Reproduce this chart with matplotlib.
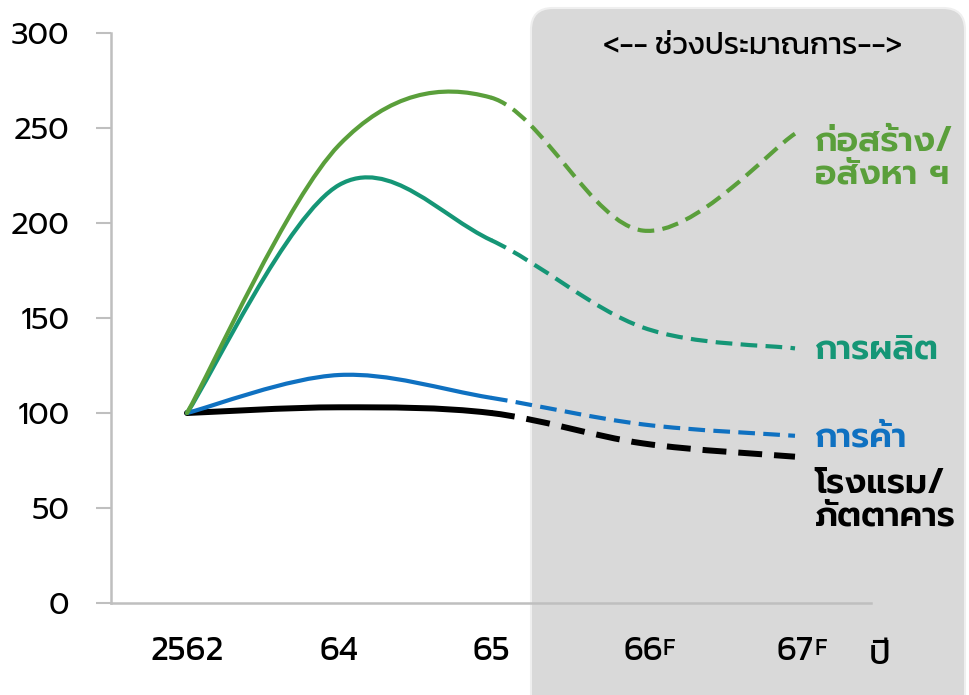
import matplotlib
matplotlib.use("Agg")
import matplotlib.pyplot as plt
from matplotlib.path import Path
from matplotlib.patches import PathPatch, FancyBboxPatch

# ข้อมูล (ดัชนี 2562 = 100)
years = ["2562", "64", "65", "66", "67"]
forecast = [False, False, False, True, True]  # ปีที่มี F
construction = [100, 241, 266, 196, 247]   # ก่อสร้าง/อสังหา ฯ
manufacturing = [100, 220, 191, 145, 134]  # การผลิต
trade = [100, 120, 108, 94, 88]            # การค้า
hotel = [100, 103, 100, 84, 77]            # โรงแรม/ภัตตาคาร
n_actual = 3  # 2562-65 เป็นค่าจริง ที่เหลือเป็นค่าประมาณการ

plt.rcParams["font.family"] = ["Prompt", "DejaVu Sans"]
COND = ["Kanit", "DejaVu Sans"]


def smooth_path(xs, ys):
    # เส้นโค้งแบบ excel (catmull-rom -> bezier)
    pts = list(zip(xs, ys))
    verts = [pts[0]]
    codes = [Path.MOVETO]
    for i in range(len(pts) - 1):
        p0 = pts[i - 1] if i > 0 else pts[i]
        p1 = pts[i]
        p2 = pts[i + 1]
        p3 = pts[i + 2] if i + 2 < len(pts) else pts[i + 1]
        c1 = (p1[0] + (p2[0] - p0[0]) / 6, p1[1] + (p2[1] - p0[1]) / 6)
        c2 = (p2[0] - (p3[0] - p1[0]) / 6, p2[1] - (p3[1] - p1[1]) / 6)
        verts += [c1, c2, p2]
        codes += [Path.CURVE4] * 3
    return verts, codes


def draw_series(ax, vals, color, lw, dash):
    xs = list(range(len(vals)))
    verts, codes = smooth_path(xs, vals)
    k = 1 + 3 * (n_actual - 1)
    solid = Path(verts[:k], codes[:k])
    fc = Path(verts[k - 1:], [Path.MOVETO] + codes[k:])
    ax.add_patch(PathPatch(solid, fill=False, edgecolor=color, lw=lw,
                           capstyle="round", joinstyle="round", zorder=3))
    ax.add_patch(PathPatch(fc, fill=False, edgecolor=color, lw=lw,
                           linestyle=(0, dash), capstyle="butt", zorder=3))


fig = plt.figure(figsize=(9.69, 6.95), dpi=100)

# พื้นที่สีเทา ช่วงประมาณการ
box = FancyBboxPatch((5.31, -0.5), 4.34, 7.37, boxstyle="round,pad=0,rounding_size=0.22",
                     transform=fig.dpi_scale_trans, facecolor="#D9D9D9",
                     edgecolor="#EFEFEF", lw=1.5, zorder=0)
fig.patches.append(box)

ax = fig.add_axes([111 / 969, 92 / 695, 760 / 969, 570 / 695])
ax.set_facecolor("none")
ax.set_zorder(1)

draw_series(ax, hotel, "black", 4.3, (4, 2))
draw_series(ax, trade, "#0F71C1", 3.0, (4, 2))
draw_series(ax, manufacturing, "#159676", 3.0, (4, 2))
draw_series(ax, construction, "#5A9F3B", 3.0, (4, 2))

ax.set_xlim(-0.5, 4.5)
ax.set_ylim(0, 300)
ax.set_yticks(range(0, 301, 50))
ax.set_xticks(range(len(years)))
ax.set_xticklabels(years, fontsize=25, family=COND)
ax.tick_params(axis="x", length=0, pad=24)
ax.tick_params(axis="y", length=11, width=1.5, color="#BFBFBF", labelsize=22, pad=19)
for s in ["top", "right"]:
    ax.spines[s].set_visible(False)
for s in ["left", "bottom"]:
    ax.spines[s].set_color("#BFBFBF")
    ax.spines[s].set_linewidth(1.8)

# ตัว F ยกสูงของปีประมาณการ
for i, f in enumerate(forecast):
    if f:
        ax.annotate("F", xy=(i, 0), xycoords=("data", "axes fraction"),
                    xytext=(14, -25), textcoords="offset points", fontsize=17,
                    family=COND, ha="left", va="top", annotation_clip=False)

# ป้ายชื่อ
lx = 4.13
ax.text(lx, 234, "ก่อสร้าง/\nอสังหา ฯ", color="#5A9F3B", fontsize=25,
        fontweight="semibold", va="center", ha="left", linespacing=1.0, clip_on=False)
ax.text(lx, 133, "การผลิต", color="#159676", fontsize=25,
        fontweight="semibold", va="center", ha="left", clip_on=False)
ax.text(lx, 87, "การค้า", color="#0F71C1", fontsize=25,
        fontweight="semibold", va="center", ha="left", clip_on=False)
ax.text(lx, 54, "โรงแรม/\nภัตตาคาร", color="black", fontsize=25,
        fontweight="semibold", va="center", ha="left", linespacing=1.0, clip_on=False)

fig.text(753 / 969, 1 - 47 / 695, "<-- ช่วงประมาณการ-->", fontsize=22,
         family=COND, ha="center", va="center")
fig.text(880 / 969, 1 - 655 / 695, "ปี", fontsize=25, family=COND,
         ha="center", va="center")

fig.savefig("out.png", dpi=100)
